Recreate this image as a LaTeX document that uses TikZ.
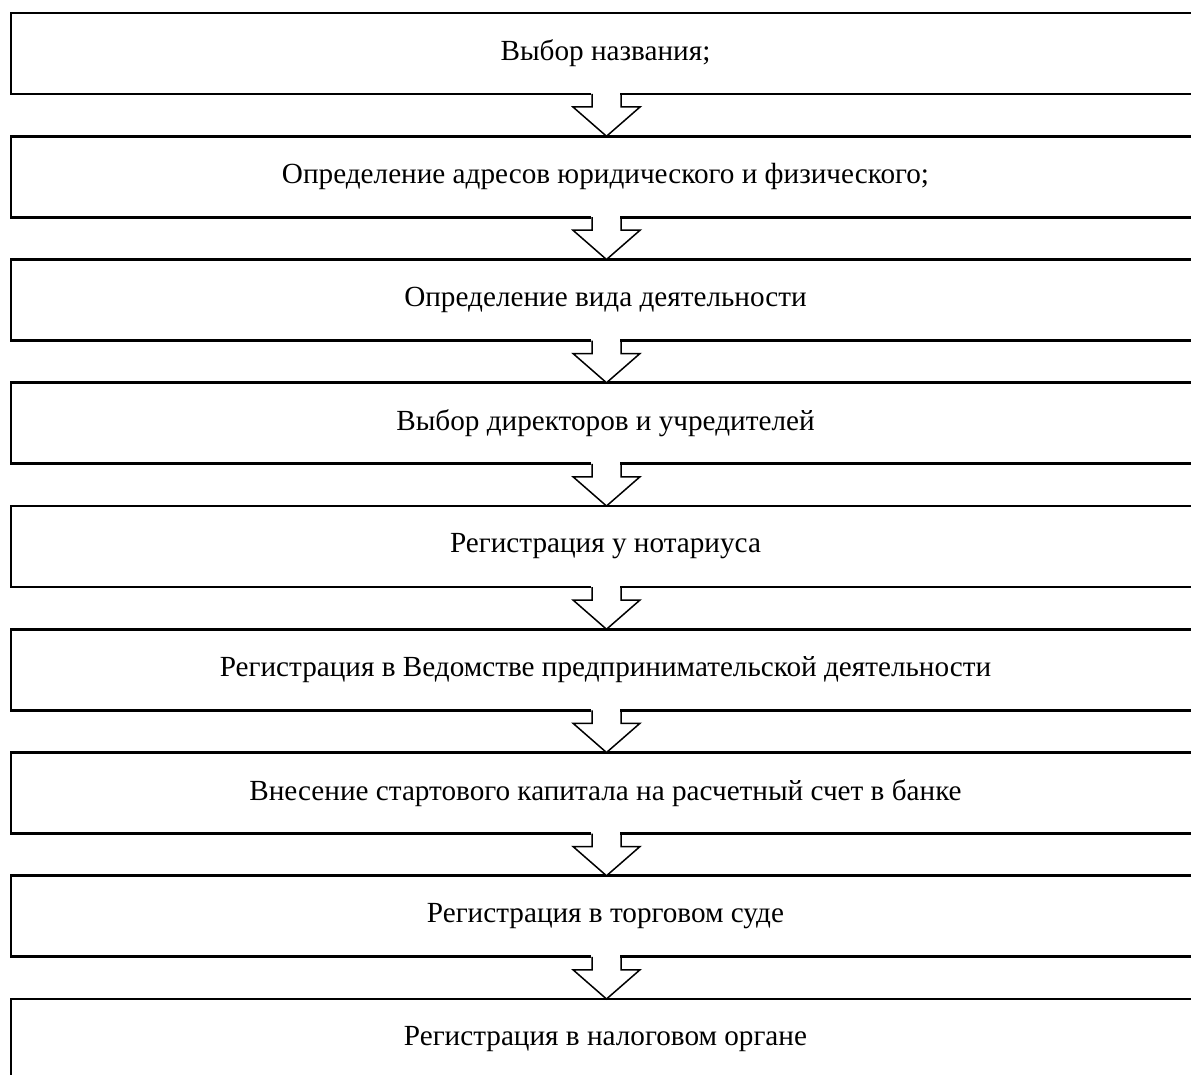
\documentclass[tikz,border=0pt]{standalone}
\usepackage{fontspec}
\setmainfont{Liberation Serif}
\usetikzlibrary{calc}
\begin{document}
\begin{tikzpicture}[x=1pt,y=1pt,
  stepbox/.style={draw, line width=2.6pt, minimum width=1189pt, minimum height=81pt, inner sep=0pt, outer sep=0pt, font=\fontsize{29.2}{34}\selectfont, anchor=center},
  arrowline/.style={draw, line width=1.5pt, line join=miter}]
\useasboundingbox (0,0) rectangle (1191,-1075);
\clip (0,0) rectangle (1191,-1075);
\foreach \i/\t in {1/{Выбор названия;},
                   2/{Определение адресов юридического и физического;},
                   3/{Определение вида деятельности},
                   4/{Выбор директоров и учредителей},
                   5/{Регистрация у нотариуса},
                   6/{Регистрация в Ведомстве предпринимательской деятельности},
                   7/{Внесение стартового капитала на расчетный счет в банке},
                   8/{Регистрация в торговом суде},
                   9/{Регистрация в налоговом органе}}{
  \node[stepbox] (b\i) at (605.5,{-53.5-123.25*(\i-1)}) {\t};
}
\foreach \i [evaluate=\i as \j using int(\i+1)] in {1,...,8}{
  \fill[white] ($(b\i.south)+(-14.5,3)$) rectangle ($(b\i.south)+(14.5,-13)$);
  \fill[white] ($(b\i.south)+(-33.5,-13)$) -- ($(b\j.north)+(1,0)$) -- ($(b\i.south)+(34.5,-13)$) -- cycle;
  \draw[arrowline] ($(b\i.south)+(-13.5,0)$) -- ($(b\i.south)+(-13.5,-13)$) -- ($(b\i.south)+(-32.5,-13)$) -- ($(b\j.north)+(1,0)$) -- ($(b\i.south)+(34.5,-13)$) -- ($(b\i.south)+(15.5,-13)$) -- ($(b\i.south)+(15.5,0)$);
}
\end{tikzpicture}
\end{document}
